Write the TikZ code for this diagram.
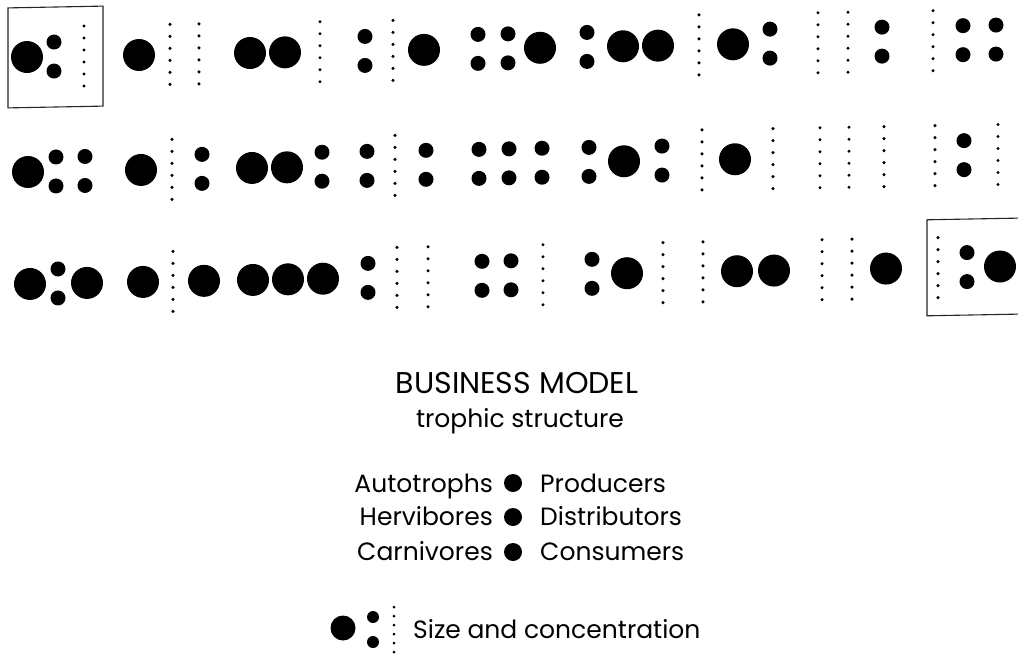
\documentclass[tikz,border=0pt]{standalone}
\usepackage{fontspec}
\setmainfont{Poppins}
\newcommand\drawB[2]{\fill (#1,#2) circle[radius=16];}
\newcommand\drawS[2]{\fill (#1,#2-14.5) circle[radius=7.5];\fill (#1,#2+14.5) circle[radius=7.5];}
\newcommand\drawD[2]{\foreach \k in {0,...,5}{\fill (#1,#2-30+12*\k) circle[radius=1.7];}}
\tikzset{
  framebox/.style={draw=black!85, line width=1.1pt},
  legtext/.style={inner sep=0pt, font=\fontsize{25}{28}\selectfont},
  titletext/.style={inner sep=0pt, font=\fontsize{30}{33}\selectfont},
}
\begin{document}
\begin{tikzpicture}[x=1pt,y=-1pt]
\useasboundingbox (0,0) rectangle (1018,654);
\clip (0,0) rectangle (1018,654);
\fill[white] (0,0) rectangle (1018,654);
% grid of cells
\foreach \Y/\list in {
  57.5/{27/B,54/S,84/D,139/B,170/D,199/D,250/B,285/B,320/D,365/S,393/D,424/B,478/S,508/S,540/B,587/S,623/B,658/B,699/D,733/B,770/S,818/D,848/D,882/S,933/D,963/S,996/S},
  172.5/{28/B,56/S,85/S,141/B,172/D,202/S,252/B,287/B,322/S,367/S,395/D,426/S,479/S,509/S,542/S,589/S,624/B,662/S,702/D,735/B,773/D,820/D,849/D,884/D,935/D,964/S,998/D},
  284.5/{30/B,58/S,87/B,143/B,173/D,204/B,253/B,288/B,323/B,368/S,397/D,428/D,482/S,511/S,543/D,592/S,627/B,663/D,703/D,737/B,774/B,822/D,852/D,886/B,938/D,967/S,1000/B}}{
  \foreach \x/\t in \list {
    \pgfmathsetmacro\yy{\Y-0.018*\x}
    \csname draw\t\endcsname{\x}{\yy}
  }
}
% frames
\draw[framebox] (8,7.9) -- (103,6.1) -- (103,106.1) -- (8,107.9) -- cycle;
\draw[framebox] (1030,217.9) -- (927,219.8) -- (927,315.8) -- (1030,313.9);
% title
\node[titletext, anchor=base] (title) at (517,393) {BUSINESS MODEL};
\node[legtext, anchor=base] (sub) at (520,427) {trophic structure};
% legend
\node[legtext, anchor=base east] (l1) at (493,492) {Autotrophs};
\node[legtext, anchor=base east] (l2) at (493,525) {Hervibores};
\node[legtext, anchor=base east] (l3) at (493,560) {Carnivores};
\fill (513,483) circle[radius=9];
\fill (513,517) circle[radius=9];
\fill (513,552) circle[radius=9];
\node[legtext, anchor=base west] (r1) at (540,492) {Producers};
\node[legtext, anchor=base west] (r2) at (540,525) {Distributors};
\node[legtext, anchor=base west] (r3) at (540,560) {Consumers};
% size legend
\fill (343,628) circle[radius=12.5];
\fill (373,617) circle[radius=6];
\fill (373,642) circle[radius=6];
\foreach \k in {0,...,5}{\fill (394,607+9*\k) circle[radius=1.5];}
\node[legtext, anchor=base west] (sz) at (413,638) {Size and concentration};
\end{tikzpicture}
\end{document}
